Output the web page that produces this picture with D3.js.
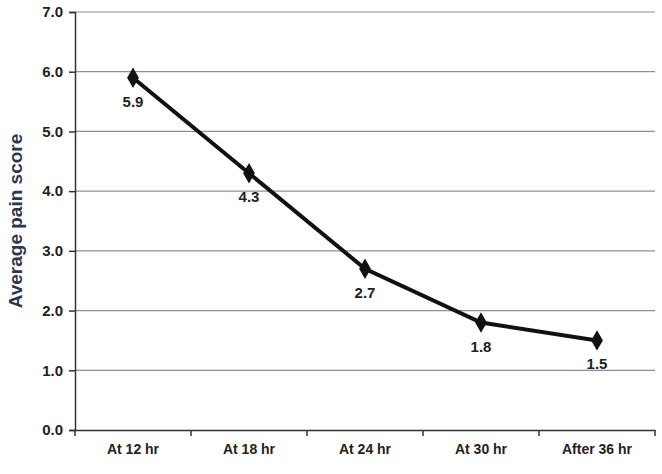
<!DOCTYPE html>
<html><head>
<meta charset="utf-8">
<script src="https://cdn.jsdelivr.net/npm/d3@7"></script>
<style>
body{margin:0;background:#fff;}
text{font-family:"Liberation Sans",Arial,sans-serif;font-weight:bold;}
</style>
</head>
<body>
<script>
var categories = ["At 12 hr","At 18 hr","At 24 hr","At 30 hr","After 36 hr"];
var scores = [5.9, 4.3, 2.7, 1.8, 1.5];
var yTicks = [0,1,2,3,4,5,6,7];

var width = 662, height = 474,
    mLeft = 75, mRight = 655, mTop = 12, mBottom = 430;

var svg = d3.select("body").append("svg")
  .attr("width", width).attr("height", height);

var x = d3.scaleBand().domain(categories).range([mLeft, mRight]);
var y = d3.scaleLinear().domain([0, 7]).range([mBottom, mTop]);

// grid lines
svg.selectAll(".grid").data(yTicks.slice(1)).enter().append("line")
  .attr("x1", mLeft).attr("x2", mRight)
  .attr("y1", function(d){ return y(d); }).attr("y2", function(d){ return y(d); })
  .attr("stroke", "#8a8fa6").attr("stroke-width", 1.2);

// y axis
var yAxis = svg.append("g").attr("transform", "translate(" + mLeft + ",0)")
  .call(d3.axisLeft(y).tickValues(yTicks).tickSize(6).tickPadding(6));
yAxis.select(".domain").attr("stroke", "#333").attr("stroke-width", 1.5);
yAxis.selectAll("line").attr("stroke", "#333").attr("stroke-width", 1.5);
yAxis.selectAll("text").attr("font-size", 15).attr("fill", "#222");

// x axis
var xAxis = svg.append("g").attr("transform", "translate(0," + mBottom + ")")
  .call(d3.axisBottom(x).tickSize(0).tickPadding(14));
xAxis.select(".domain").attr("stroke", "#333").attr("stroke-width", 1.5);
xAxis.selectAll("text").attr("font-size", 14).attr("fill", "#222");
svg.selectAll(".xt").data(categories.concat([null])).enter().append("line")
  .attr("x1", function(d, i){ return mLeft + i * x.step(); })
  .attr("x2", function(d, i){ return mLeft + i * x.step(); })
  .attr("y1", mBottom).attr("y2", mBottom + 6)
  .attr("stroke", "#333").attr("stroke-width", 1.5);

// y label
svg.append("text")
  .attr("transform", "translate(22," + ((mTop + mBottom) / 2) + ") rotate(-90)")
  .attr("text-anchor", "middle")
  .attr("font-size", 19).attr("fill", "#2d3550")
  .text("Average pain score");

var cx = function(d, i){ return x(categories[i]) + x.bandwidth() / 2; };

svg.append("path")
  .datum(scores)
  .attr("d", d3.line().x(cx).y(function(d){ return y(d); }))
  .attr("fill", "none").attr("stroke", "#111").attr("stroke-width", 4);

svg.selectAll(".pt").data(scores).enter().append("path")
  .attr("d", d3.symbol(d3.symbolDiamond, 120))
  .attr("transform", function(d, i){ return "translate(" + cx(d, i) + "," + y(d) + ")"; })
  .attr("fill", "#111");

svg.selectAll(".lbl").data(scores).enter().append("text")
  .attr("x", cx).attr("y", function(d){ return y(d) + 29; })
  .attr("text-anchor", "middle").attr("font-size", 15).attr("fill", "#222")
  .text(function(d){ return d.toFixed(1); });
</script>
</body></html>
